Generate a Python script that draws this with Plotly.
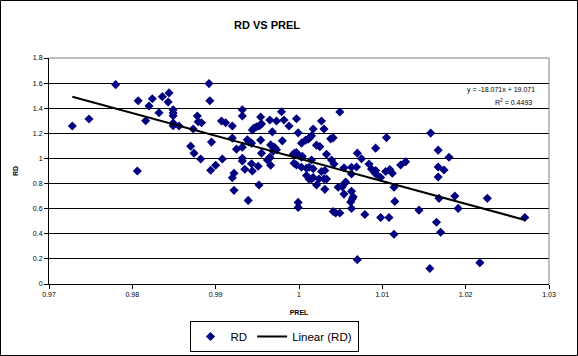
import plotly.graph_objects as go

# Data
prel = [0.9728, 0.9748, 0.9780, 0.9806, 0.9807, 0.9816, 0.9820, 0.9824, 0.9832, 0.9836,
        0.9843, 0.9844, 0.9849, 0.9849, 0.9849, 0.9849, 0.9849, 0.9856, 0.9870, 0.9873,
        0.9874, 0.9878, 0.9879, 0.9883, 0.9882, 0.9892, 0.9893, 0.9895, 0.9894, 0.9900,
        0.9907, 0.9908, 0.9912, 0.9920, 0.9920, 0.9925, 0.9920, 0.9922, 0.9932, 0.9932,
        0.9932, 0.9932, 0.9932, 0.9935, 0.9938, 0.9940, 0.9943, 0.9943, 0.9944, 0.9944,
        0.9946, 0.9949, 0.9952, 0.9954, 0.9955, 0.9954, 0.9954, 0.9951, 0.9955, 0.9962,
        0.9964, 0.9965, 0.9966, 0.9965, 0.9973, 0.9968, 0.9966, 0.9969, 0.9971, 0.9973,
        0.9969, 0.9979, 0.9980, 0.9982, 0.9988, 0.9997, 0.9999, 0.9993, 0.9995, 0.9997,
        0.9999, 1.0003, 1.0004, 0.9994, 0.9997, 1.0003, 1.0003, 1.0009, 1.0012, 1.0008,
        1.0011, 1.0013, 1.0015, 1.0017, 1.0015, 1.0017, 1.0009, 1.0012, 1.0015, 1.0017,
        1.0021, 1.0025, 1.0027, 1.0030, 1.0033, 1.0027, 1.0031, 1.0038, 1.0041, 1.0039,
        1.0042, 1.0049, 1.0054, 1.0063, 1.0069, 1.0070, 1.0075, 1.0063, 1.0021, 1.0024,
        1.0030, 1.0033, 1.0031, 0.9922, 0.9952, 0.9939, 0.9999, 0.9999, 1.0041, 1.0044,
        1.0049, 1.0047, 1.0052, 1.0055, 1.0056, 1.0054, 1.0063, 1.0062, 1.0064, 1.0065,
        1.0063, 1.0070, 1.0079, 1.0084, 1.0087, 1.0092, 1.0091, 1.0093, 1.0098, 1.0092,
        1.0098, 1.0108, 1.0105, 1.0104, 1.0109, 1.0112, 1.0114, 1.0115, 1.0114, 1.0122,
        1.0128, 1.0144, 1.0158, 1.0167, 1.0180, 1.0167, 1.0174, 1.0167, 1.0168, 1.0187,
        1.0226, 1.0165, 1.0191, 1.0170, 1.0157, 1.0217, 1.0271]
rd = [1.258, 1.314, 1.588, 0.900, 1.460, 1.300, 1.418, 1.476, 1.364, 1.492,
      1.450, 1.522, 1.388, 1.362, 1.340, 1.282, 1.260, 1.258, 1.098, 1.234,
      1.042, 1.338, 1.292, 1.284, 0.996, 1.596, 1.460, 1.130, 0.906, 0.946,
      1.298, 0.996, 1.284, 1.258, 1.162, 1.074, 0.846, 0.882, 1.388, 1.338,
      1.090, 1.002, 0.980, 0.914, 1.148, 1.132, 1.122, 0.958, 0.900, 1.226,
      1.242, 1.252, 1.258, 1.268, 1.276, 1.330, 1.146, 0.938, 1.042, 0.988,
      0.998, 1.010, 0.946, 1.306, 1.298, 1.212, 1.108, 1.090, 1.086, 1.070,
      1.058, 1.372, 1.140, 1.306, 1.258, 1.316, 1.204, 1.034, 1.042, 1.046,
      1.026, 1.010, 1.018, 0.962, 0.948, 1.122, 0.930, 0.922, 0.930, 1.146,
      1.154, 1.166, 1.180, 1.234, 0.988, 0.918, 0.864, 0.836, 0.836, 0.848,
      1.106, 1.094, 1.298, 1.234, 1.034, 0.896, 0.904, 1.156, 1.164, 0.988,
      0.956, 1.370, 0.926, 0.930, 0.932, 1.042, 0.998, 0.876, 0.788, 0.836,
      0.836, 0.836, 0.754, 0.746, 0.788, 0.666, 0.650, 0.610, 0.578, 0.566,
      0.566, 0.770, 0.774, 0.802, 0.812, 0.716, 0.738, 0.654, 0.678, 0.694,
      0.602, 0.194, 0.554, 0.956, 0.916, 0.904, 0.884, 0.872, 0.848, 1.082,
      0.530, 0.530, 1.166, 0.896, 0.912, 0.882, 0.770, 0.658, 0.396, 0.948,
      0.974, 0.588, 1.202, 1.066, 1.010, 0.932, 0.908, 0.852, 0.682, 0.700,
      0.682, 0.492, 0.602, 0.412, 0.124, 0.170, 0.530]

slope = -18.071
intercept = 19.071
eq_text = "y = -18.071x + 19.071"
r2_text = "R<sup>2</sup> = 0.4493"

x_ticks = [0.97, 0.98, 0.99, 1.00, 1.01, 1.02, 1.03]
x_tick_labels = ["0.97", "0.98", "0.99", "1", "1.01", "1.02", "1.03"]
y_ticks = [0, 0.2, 0.4, 0.6, 0.8, 1.0, 1.2, 1.4, 1.6, 1.8]
y_tick_labels = ["0", "0.2", "0.4", "0.6", "0.8", "1", "1.2", "1.4", "1.6", "1.8"]

xmin, xmax = min(prel), max(prel)
trend_x = [xmin, xmax]
trend_y = [slope * v + intercept for v in trend_x]

fig = go.Figure()
fig.add_trace(go.Scatter(
    x=prel, y=rd, mode="markers", name="RD",
    marker=dict(symbol="diamond", size=7, color="#000080", line=dict(width=0)),
))
fig.add_trace(go.Scatter(
    x=trend_x, y=trend_y, mode="lines", name="Linear (RD)",
    line=dict(color="black", width=2),
))

W, H = 578, 356
ml, mr, mt, mb = 49, 29, 58, 72
pw, ph = W - ml - mr, H - mt - mb

fig.update_layout(
    width=W, height=H,
    margin=dict(l=ml, r=mr, t=mt, b=mb, autoexpand=False),
    paper_bgcolor="white", plot_bgcolor="white",
    font=dict(family="Arial, Liberation Sans, sans-serif", color="black", size=7),
    title=dict(text="<b>RD VS PREL</b>", x=267 / W, xanchor="center",
               y=1 - 25 / H, yanchor="middle",
               font=dict(size=11, family="Arial, Liberation Sans, sans-serif")),
    showlegend=True,
    legend=dict(orientation="h", xref="container", yref="container",
                x=274 / W, xanchor="center",
                y=1 - 321 / H, yanchor="top",
                bordercolor="black", borderwidth=1, bgcolor="white",
                font=dict(size=11.5, family="Arial, Liberation Sans, sans-serif"),
                itemwidth=30, tracegroupgap=0),
)
fig.update_xaxes(
    range=[0.97, 1.03], tickvals=x_ticks, ticktext=x_tick_labels,
    showgrid=False, zeroline=False,
    showline=True, linecolor="black", linewidth=1,
    ticks="outside", ticklen=4, tickcolor="black",
    tickfont=dict(size=7),
    title=dict(text="<b>PREL</b>", font=dict(size=7), standoff=12),
)
fig.update_yaxes(
    range=[0, 1.8], tickvals=y_ticks, ticktext=y_tick_labels,
    showgrid=True, gridcolor="black", gridwidth=1, zeroline=False,
    showline=True, linecolor="black", linewidth=1,
    ticks="outside", ticklen=4, tickcolor="black",
    tickfont=dict(size=7),
    title=dict(text="<b>RD</b>", font=dict(size=7), standoff=13),
)
# gray top/right plot-area border
fig.add_shape(type="line", xref="x domain", yref="y domain", x0=0, x1=1, y0=1, y1=1,
              line=dict(color="#808080", width=1))
fig.add_shape(type="line", xref="x domain", yref="y domain", x0=1, x1=1, y0=0, y1=1,
              line=dict(color="#808080", width=1))
# outer chart border
fig.add_shape(type="rect", xref="paper", yref="paper",
              x0=(0.5 - ml) / pw, x1=(W - 0.5 - ml) / pw,
              y0=(mt + ph - (H - 0.5)) / ph, y1=(mt + ph - 0.5) / ph,
              line=dict(color="black", width=1), layer="above")
fig.add_annotation(xref="x domain", yref="y domain", x=(537 - ml) / pw, y=(mt + ph - 89.5) / ph,
                   text=eq_text, showarrow=False, xanchor="right", yanchor="middle",
                   font=dict(size=7))
fig.add_annotation(xref="x domain", yref="y domain", x=(534 - ml) / pw, y=(mt + ph - 102) / ph,
                   text=r2_text, showarrow=False, xanchor="right", yanchor="middle",
                   font=dict(size=7))

fig.write_html("out.html", config={"displayModeBar": False},
               post_script="document.body.style.margin='0';")
